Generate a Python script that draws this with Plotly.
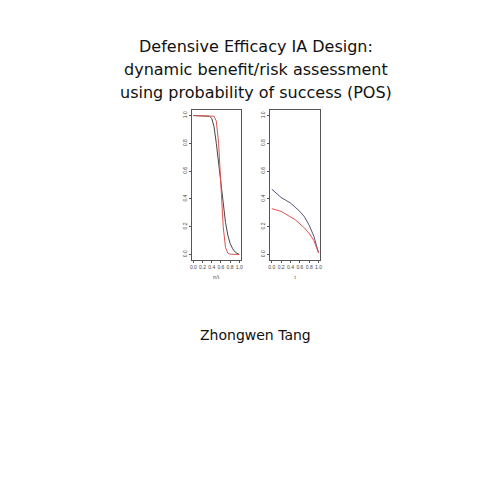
import plotly.graph_objects as go

x1 = [0, 0.1, 0.2, 0.3, 0.35, 0.4, 0.45, 0.5, 0.55, 0.6, 0.65, 0.7, 0.75, 0.8, 0.85, 0.9, 0.95, 1.0]
black1 = [1, 1, 1, 1, 0.995, 0.98, 0.92, 0.8, 0.65, 0.5, 0.35, 0.23, 0.14, 0.08, 0.045, 0.02, 0.008, 0.0]
red1 = [1, 1, 1, 1, 1, 1, 0.995, 0.96, 0.8, 0.5, 0.2, 0.05, 0.01, 0.002, 0, 0, 0, 0]

x2 = [0, 0.1, 0.2, 0.3, 0.4, 0.5, 0.6, 0.7, 0.8, 0.9, 1.0]
black2 = [0.47, 0.44, 0.41, 0.39, 0.37, 0.34, 0.31, 0.27, 0.21, 0.13, 0.01]
red2 = [0.33, 0.32, 0.31, 0.29, 0.27, 0.25, 0.22, 0.19, 0.15, 0.10, 0.01]

title_lines = ['Defensive Efficacy IA Design:', 'dynamic benefit/risk assessment',
               'using probability of success (POS)']

fig = go.Figure()
fig.add_trace(go.Scatter(x=x1, y=black1, mode='lines', line=dict(color='#444', width=1)))
fig.add_trace(go.Scatter(x=x1, y=red1, mode='lines', line=dict(color='#e05050', width=1)))
fig.add_trace(go.Scatter(x=x2, y=black2, mode='lines', line=dict(color='#555577', width=1),
                         xaxis='x2', yaxis='y2'))
fig.add_trace(go.Scatter(x=x2, y=red2, mode='lines', line=dict(color='#e05050', width=1),
                         xaxis='x2', yaxis='y2'))

ax = dict(range=[-0.04, 1.04], showgrid=False, zeroline=False, showline=True, mirror=True,
          linecolor='#555', linewidth=0.7, ticks='outside', ticklen=2, tickcolor='#555',
          tickvals=[0, 0.2, 0.4, 0.6, 0.8, 1.0], ticktext=['0.0', '0.2', '0.4', '0.6', '0.8', '1.0'],
          tickfont=dict(size=5, color='#444', family='Liberation Sans'))
ydom = [1 - 252 / 495, 1 - 102 / 495]
anns = [dict(text=t, x=0.5, y=1 - yy / 495, xref='paper', yref='paper', showarrow=False,
             font=dict(size=16, color='#111', family='DejaVu Sans'))
        for t, yy in zip(title_lines, [27, 50, 73])]
anns.append(dict(text='Zhongwen Tang', x=0.5, y=1 - 327 / 495, xref='paper', yref='paper',
                 showarrow=False, font=dict(size=14, color='#111', family='DejaVu Sans')))
fig.update_layout(
    width=495, height=495, margin=dict(l=0, r=0, t=0, b=0),
    paper_bgcolor='white', plot_bgcolor='white', showlegend=False,
    xaxis=dict(ax, domain=[183 / 495, 233 / 495], anchor='y',
               title=dict(text='n/t', font=dict(size=5, color='#444'), standoff=6)),
    yaxis=dict(ax, domain=ydom, anchor='x', tickangle=-90),
    xaxis2=dict(ax, domain=[262 / 495, 313 / 495], anchor='y2',
                title=dict(text='t', font=dict(size=5, color='#444'), standoff=6)),
    yaxis2=dict(ax, domain=ydom, anchor='x2', tickangle=-90),
    annotations=anns,
)
fig.write_html('out.html')
